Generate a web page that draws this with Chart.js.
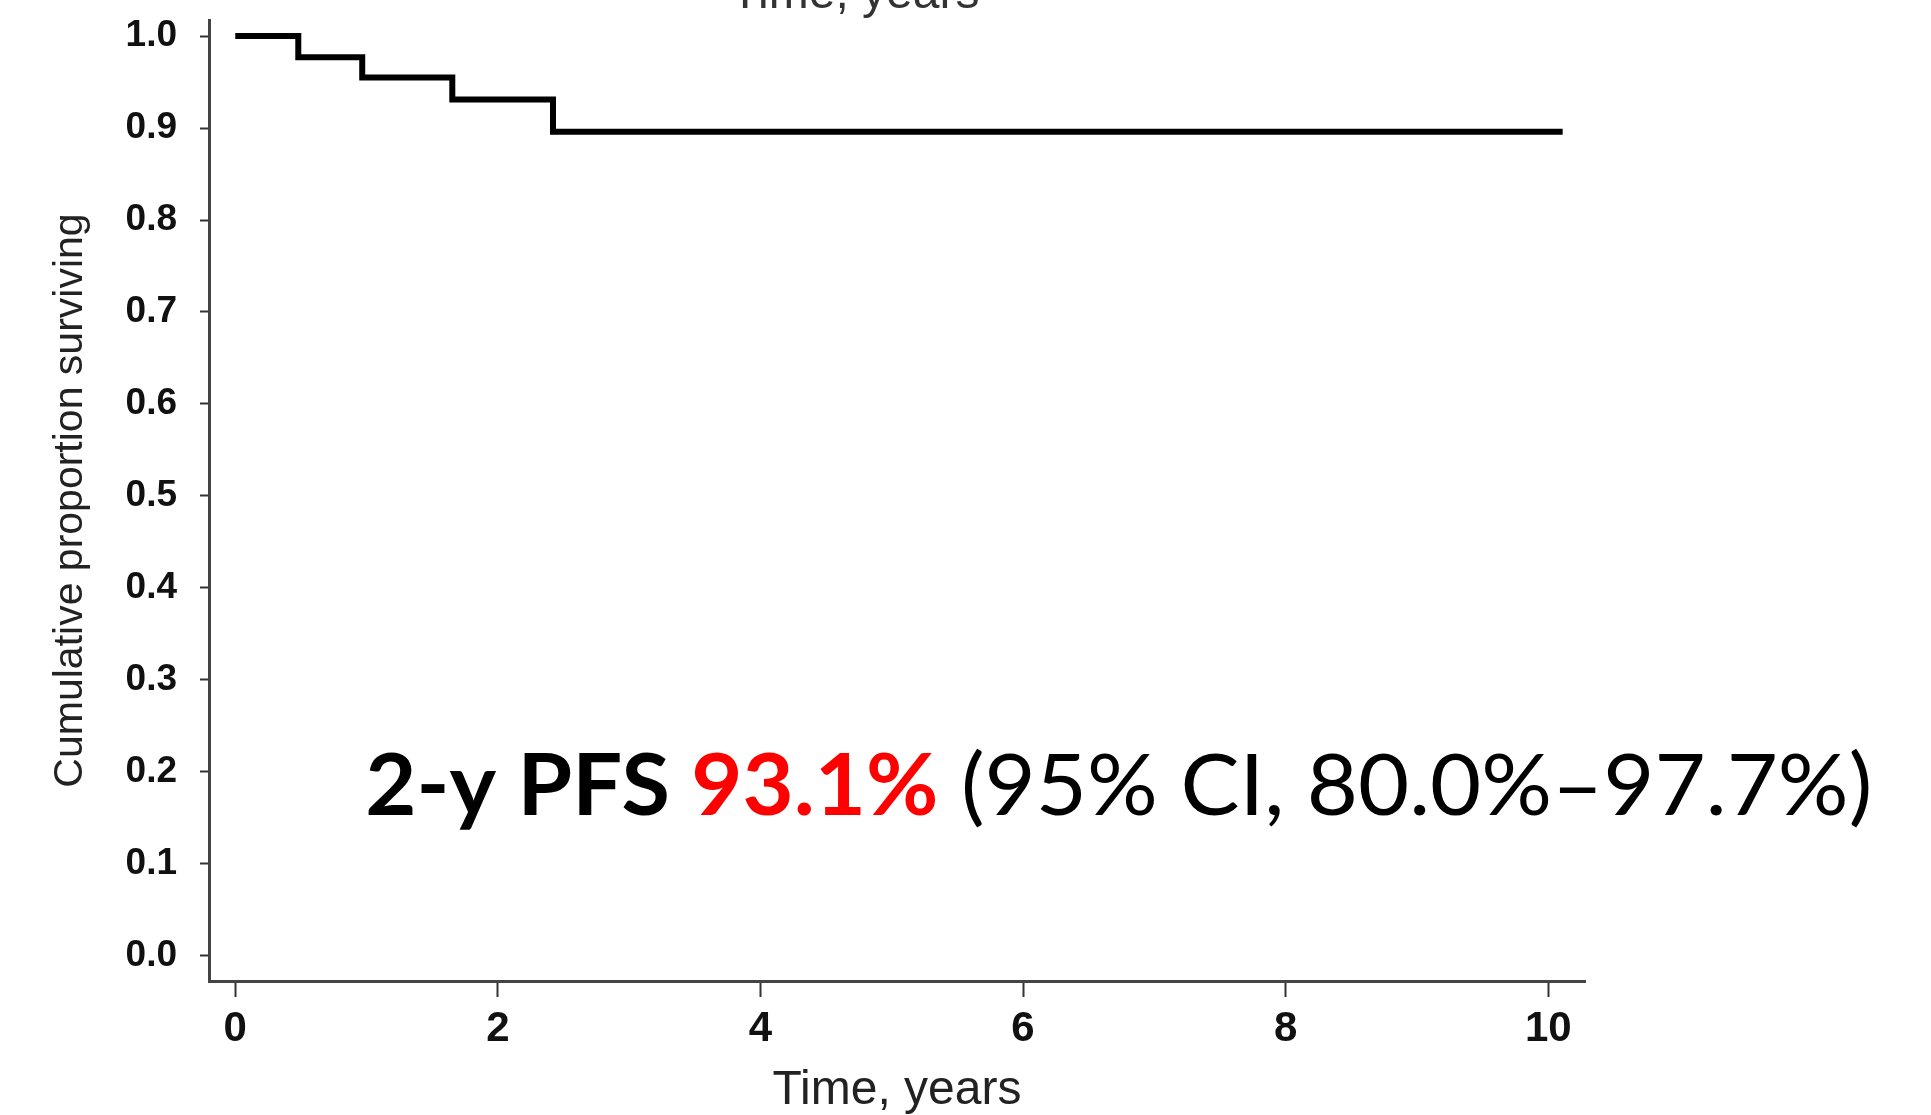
<!DOCTYPE html>
<html>
<head>
<meta charset="utf-8">
<script src="https://cdn.jsdelivr.net/npm/chart.js@4.4.1/dist/chart.umd.min.js"></script>
<style>
  html, body { margin: 0; padding: 0; background: #fff; }
  #wrap { position: relative; width: 1931px; height: 1115px; }
</style>
</head>
<body>
<div id="wrap"><canvas id="km"></canvas></div>
<script>
'use strict';

// Kaplan-Meier steps (time in years, proportion surviving)
var times    = [0, 0.48, 0.967, 1.653, 2.42, 10.11];
var survival = [1.0, 0.977, 0.955, 0.931, 0.896, 0.896];

var xTicks = [0, 2, 4, 6, 8, 10];
var yTicks = [0.0, 0.1, 0.2, 0.3, 0.4, 0.5, 0.6, 0.7, 0.8, 0.9, 1.0];

var xTitle = 'Time, years';
var yTitle = 'Cumulative proportion surviving';

// the PFS note laid over the plot, anchored in data units
var noteAt = {x: 0.99, y: 0.153};
var noteParts = [
  {text: '2-y PFS ', weight: 'bold', color: '#000000'},
  {text: '93.1%', weight: 'bold', color: '#ff0000'},
  {text: ' (95% CI, 80.0%\u201397.7%)', weight: 'normal', color: '#000000'}
];

var extraText = {
  id: 'extraText',
  afterDraw: function (chart) {
    var ctx = chart.ctx;
    ctx.save();

    // axis title of the panel above, cut off by the top edge
    ctx.fillStyle = '#333';
    ctx.font = '48px "Liberation Sans", Arial, sans-serif';
    ctx.textAlign = 'center';
    ctx.textBaseline = 'alphabetic';
    ctx.fillText(xTitle, 855, 8);

    // the note: measure, then squeeze to the width it has in the figure
    var size = 86;
    var total = 0;
    noteParts.forEach(function (part) {
      ctx.font = part.weight + ' ' + size + 'px Lato, "Open Sans", sans-serif';
      part.w = ctx.measureText(part.text).width;
      total += part.w;
    });
    var sx = 1507 / total;
    ctx.translate(chart.scales.x.getPixelForValue(noteAt.x), chart.scales.y.getPixelForValue(noteAt.y));
    ctx.scale(sx, 1);
    ctx.textAlign = 'left';
    var x = 0;
    noteParts.forEach(function (part) {
      ctx.font = part.weight + ' ' + size + 'px Lato, "Open Sans", sans-serif';
      ctx.fillStyle = part.color;
      ctx.fillText(part.text, x, 0);
      x += part.w;
    });

    ctx.restore();
  }
};

var points = times.map(function (t, i) {
  return {x: t, y: survival[i]};
});

new Chart(document.getElementById('km'), {
  type: 'line',
  data: {
    datasets: [{
      label: 'PFS',
      data: points,
      borderColor: '#000',
      borderWidth: 6,
      stepped: 'before',
      pointRadius: 0,
      fill: false,
      borderCapStyle: 'butt',
      borderJoinStyle: 'miter'
    }]
  },
  options: {
    responsive: true,
    maintainAspectRatio: false,
    animation: false,
    layout: { padding: { top: 20, right: 346, left: 0, bottom: 0 } },
    plugins: {
      legend: { display: false },
      tooltip: { enabled: false }
    },
    scales: {
      x: {
        type: 'linear',
        min: -0.2,
        max: 10.28,
        afterBuildTicks: function (scale) {
          scale.ticks = xTicks.map(function (v) { return {value: v}; });
        },
        afterFit: function (scale) {
          scale.height = 134;
          scale.paddingLeft = 0;
          scale.paddingRight = 0;
        },
        grid: { drawOnChartArea: false, drawTicks: true, tickLength: 16, tickWidth: 2, tickColor: '#333' },
        border: { display: true, color: '#444', width: 3 },
        ticks: {
          padding: 7,
          autoSkip: false,
          maxRotation: 0,
          color: '#111',
          font: { family: '"Liberation Sans", Arial, sans-serif', size: 42, weight: 'bold' }
        },
        title: {
          display: true,
          text: xTitle,
          color: '#222',
          font: { family: '"Liberation Sans", Arial, sans-serif', size: 48, lineHeight: 1.0 },
          padding: { top: 0, bottom: 0 }
        }
      },
      y: {
        type: 'linear',
        min: -0.0272,
        max: 1.0174,
        afterBuildTicks: function (scale) {
          scale.ticks = yTicks.map(function (v) { return {value: v}; });
        },
        afterFit: function (scale) {
          scale.width = 209;
          scale.paddingTop = 0;
          scale.paddingBottom = 0;
        },
        grid: { drawOnChartArea: false, drawTicks: true, tickLength: 9, tickWidth: 2, tickColor: '#333' },
        border: { display: true, color: '#444', width: 3 },
        ticks: {
          padding: 23,
          autoSkip: false,
          color: '#111',
          font: { family: '"Liberation Sans", Arial, sans-serif', size: 37, weight: 'bold' },
          callback: function (v) { return Number(v).toFixed(1); }
        },
        title: {
          display: true,
          text: yTitle,
          color: '#222',
          font: { family: '"Liberation Sans", Arial, sans-serif', size: 41 },
          padding: { top: 46, bottom: 0 }
        }
      }
    }
  },
  plugins: [extraText]
});
</script>
</body>
</html>
